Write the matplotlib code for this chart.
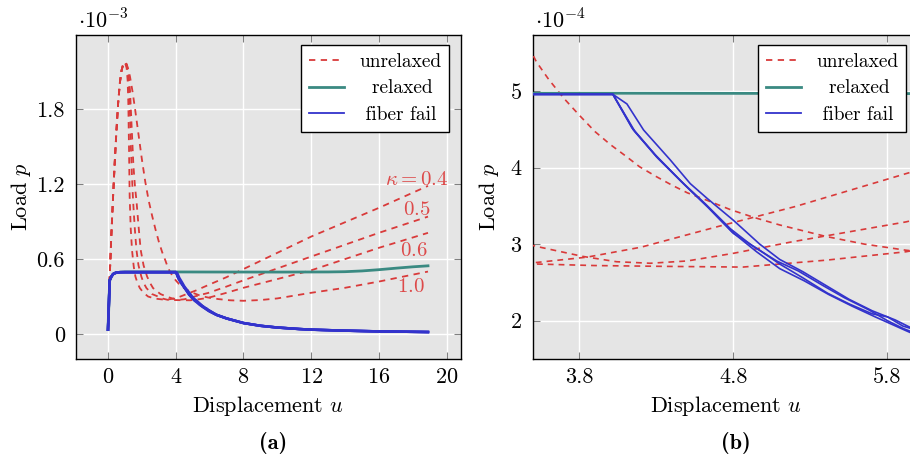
import numpy as np
import matplotlib
matplotlib.use("Agg")
import matplotlib.pyplot as plt

plt.rcParams['font.family'] = ['cmr10', 'DejaVu Serif']
plt.rcParams['mathtext.fontset'] = 'cm'
plt.rcParams['axes.formatter.use_mathtext'] = True
plt.rcParams['axes.unicode_minus'] = False

# load values are stored in units of 1e-3
rise_u = [0.0, 0.1, 0.2, 0.3, 0.4, 0.5, 0.6, 0.7, 0.8, 0.9, 1.0]
rise_p = [0.035, 0.45, 0.8, 1.1, 1.38, 1.63, 1.85, 2.01, 2.11, 2.16, 2.175]

k04_u = [1.1, 1.16, 1.2, 1.24, 1.28, 1.34, 1.42, 1.52, 1.62, 1.75, 1.88, 2.1, 2.37, 2.8, 3.2,
         3.52, 3.85, 4.2, 4.7, 5.2, 5.92, 7, 8, 10, 12, 14, 16, 18.9]
k04_p = [2.13, 2.03, 1.85, 1.5, 1.1, 0.85, 0.67, 0.54, 0.46, 0.405, 0.368, 0.33, 0.30, 0.283, 0.277,
         0.276, 0.283, 0.296, 0.323, 0.349, 0.392, 0.455, 0.52, 0.65, 0.78, 0.895, 1.01, 1.186]

k05_u = [1.1, 1.2, 1.3, 1.4, 1.5, 1.6, 1.68, 1.8, 1.93, 2.1, 2.31, 2.5, 2.66, 3.1, 3.52, 3.82,
         4.04, 4.26, 4.5, 4.8, 5.18, 5.92, 7, 8, 10, 12, 14, 16, 18.9]
k05_p = [2.16, 2.1, 1.95, 1.65, 1.35, 1.17, 1.07, 0.87, 0.674, 0.55, 0.46, 0.405, 0.368, 0.32, 0.297, 0.284,
         0.277, 0.275, 0.278, 0.288, 0.303, 0.329, 0.38, 0.43, 0.525, 0.62, 0.715, 0.81, 0.94]

k06_u = [1.1, 1.2, 1.28, 1.35, 1.42, 1.48, 1.58, 1.68, 1.8, 1.97, 2.1, 2.27, 2.6, 2.96, 3.25, 3.52,
         3.9, 4.32, 4.86, 5.4, 5.92, 7, 8, 10, 12, 14, 16, 18.9]
k06_p = [2.15, 2.08, 1.85, 1.5, 1.25, 1.07, 0.85, 0.674, 0.55, 0.46, 0.41, 0.368, 0.32, 0.30, 0.283, 0.274,
         0.272, 0.271, 0.270, 0.279, 0.29, 0.33, 0.37, 0.44, 0.51, 0.6, 0.69, 0.81]

k10_u = [1.1, 1.2, 1.3, 1.45, 1.6, 1.8, 2.0, 2.2, 2.4, 2.6, 2.8, 3.0, 3.2, 3.4, 3.52, 3.6, 3.7,
         3.8, 3.9, 4.0, 4.1, 4.19, 4.3, 4.4, 4.5, 4.63, 4.78, 4.93, 5.1, 5.4, 5.65, 5.92,
         6.5, 7.2, 8, 9, 10, 12, 14, 16, 18.9]
k10_p = [2.16, 2.12, 2.06, 1.94, 1.8, 1.6, 1.4, 1.22, 1.07, 0.95, 0.84, 0.74, 0.655, 0.585, 0.538,
         0.515, 0.49, 0.468, 0.447, 0.43, 0.415, 0.401, 0.388, 0.377, 0.367, 0.357, 0.345, 0.335,
         0.325, 0.31, 0.30, 0.292, 0.28, 0.27, 0.266, 0.272, 0.285, 0.33, 0.37, 0.42, 0.50]

kappas = ['0.4', '0.5', '0.6', '1.0']
unrelaxed = [(k04_u, k04_p), (k05_u, k05_p), (k06_u, k06_p), (k10_u, k10_p)]

relaxed_u = [0.0, 0.1, 0.2, 0.3, 0.45, 0.7, 1.0, 4, 6, 10, 13, 14, 15, 16, 17, 18, 18.9]
relaxed_p = [0.035, 0.43, 0.46, 0.48, 0.49, 0.495, 0.497, 0.497, 0.4965, 0.496, 0.497, 0.499,
             0.505, 0.515, 0.527, 0.538, 0.546]

fail_start_u = [0.0, 0.1, 0.2, 0.3, 0.45, 0.7, 1.0, 4.017]
fail_start_p = [0.035, 0.43, 0.46, 0.48, 0.49, 0.495, 0.4955, 0.4955]
fail_tail_u = [6.4, 7, 8, 9, 10, 11.3, 12, 14, 16, 18.9]
fail_tail_p = [0.154, 0.125, 0.088, 0.066, 0.052, 0.040, 0.035, 0.027, 0.021, 0.016]

failA_u = [4.108, 4.216, 4.389, 4.519, 4.627, 4.80, 4.97, 5.1, 5.25, 5.4, 5.55, 5.7, 5.85, 6.0]
failA_p = [0.483, 0.449, 0.410, 0.379, 0.360, 0.331, 0.300, 0.280, 0.264, 0.246, 0.228, 0.213, 0.201, 0.186]
failB_u = [4.15, 4.30, 4.475, 4.63, 4.80, 4.97, 5.1, 5.25, 5.41, 5.55, 5.7, 5.80, 5.9, 6.0]
failB_p = [0.449, 0.414, 0.379, 0.349, 0.314, 0.292, 0.274, 0.256, 0.236, 0.222, 0.209, 0.205, 0.193, 0.187]
failC_u = [4.14, 4.29, 4.46, 4.62, 4.78, 4.92, 5.08, 5.22, 5.38, 5.52, 5.68, 5.80, 5.9, 6.0]
failC_p = [0.452, 0.417, 0.382, 0.352, 0.320, 0.298, 0.278, 0.265, 0.246, 0.230, 0.214, 0.200, 0.190, 0.182]
failD_u = [4.16, 4.31, 4.49, 4.64, 4.79, 4.95, 5.1, 5.26, 5.42, 5.57, 5.72, 5.82, 5.92, 6.0]
failD_p = [0.447, 0.412, 0.376, 0.347, 0.316, 0.290, 0.268, 0.252, 0.234, 0.219, 0.205, 0.196, 0.187, 0.180]
fail_mid = [(failA_u, failA_p), (failB_u, failB_p), (failC_u, failC_p), (failD_u, failD_p)]

left_xticks = [0, 4, 8, 12, 16, 20]
left_yticks = [0, 0.6, 1.2, 1.8]
left_yticklabels = ['0', '0.6', '1.2', '1.8']
right_xticks = [3.8, 4.8, 5.8]
right_xticklabels = ['3.8', '4.8', '5.8']
right_yticks = [2, 3, 4, 5]

RED = '#d93a3a'
TEAL = '#3a8a82'
BLUE = '#3333cc'
BG = '#e5e5e5'

fig = plt.figure(figsize=(9.1, 4.57), dpi=100)
W, H = 910, 457
ax1 = fig.add_axes([76 / W, 1 - 359 / H, 385 / W, 324 / H])
ax2 = fig.add_axes([533.3 / W, 1 - 359 / H, 385 / W, 324 / H])


def style(ax, ypad):
    ax.set_facecolor(BG)
    ax.grid(True, color='white', lw=1.0)
    ax.set_axisbelow(True)
    ax.tick_params(direction='in', length=5, width=0.8, color='#808080',
                   top=True, right=True, labelsize=16)
    ax.tick_params(axis='x', pad=6)
    ax.tick_params(axis='y', pad=8)
    for s in ax.spines.values():
        s.set_color('black')
        s.set_linewidth(1.0)
    ax.set_xlabel(r'Displacement $u$', fontsize=16, labelpad=5)
    ax.set_ylabel(r'Load $p$', fontsize=16, labelpad=ypad)


def draw(ax, scale, lw_dash, lw_fail):
    for i, (u, p) in enumerate(unrelaxed):
        uu = np.concatenate([rise_u, u])
        pp = np.concatenate([rise_p, p]) * scale
        ax.plot(uu, pp, color=RED, lw=lw_dash, dashes=(3.5, 3.0),
                label='unrelaxed' if i == 0 else None, zorder=3)
    ax.plot(relaxed_u, np.array(relaxed_p) * scale, color=TEAL, lw=2.0,
            label='  relaxed', zorder=4)
    for i, (u, p) in enumerate(fail_mid):
        uu = np.concatenate([fail_start_u, u, fail_tail_u])
        pp = np.concatenate([fail_start_p, p, fail_tail_p]) * scale
        ax.plot(uu, pp, color=BLUE, lw=lw_fail,
                label=' fiber fail' if i == 0 else None, zorder=5)
    leg = ax.legend(loc='upper right', fontsize=14, frameon=True, fancybox=False,
                    framealpha=1, edgecolor='black', handlelength=1.8,
                    borderaxespad=0.0, labelspacing=0.45, borderpad=0.4,
                    handletextpad=0.8)
    leg.get_frame().set_linewidth(1.0)
    leg.set_zorder(10)
    for h in leg.get_lines():
        h.set_linewidth(1.3 if h.get_color() != TEAL else 2.0)
    return leg


style(ax1, 2.5)
leg1 = draw(ax1, 1.0, 1.3, 1.8)
leg1.set_bbox_to_anchor((449 / W, 1 - 45 / H), transform=fig.transFigure)
ax1.set_xlim(-1.89, 20.85)
ax1.set_ylim(-0.2, 2.394)
ax1.set_xticks(left_xticks)
ax1.set_yticks(left_yticks)
ax1.set_yticklabels(left_yticklabels)
ax1.text(0.005, 1.008, r'$\cdot 10^{-3}$', transform=ax1.transAxes, fontsize=16,
         ha='left', va='bottom')

# kappa labels next to the curve ends
lab_x = [20.1, 19.03, 18.86, 18.74]
lab_y = [1.235, 0.994, 0.666, 0.378]
for i, k in enumerate(kappas):
    txt = r'$\kappa = %s$' % k if i == 0 else r'$%s$' % k
    ax1.text(lab_x[i], lab_y[i], txt, color='#dd4a4a', fontsize=15,
             ha='right', va='center', zorder=6)

style(ax2, 6)
leg2 = draw(ax2, 10.0, 1.2, 1.2)
# legend in right panel must stay within visible figure area
leg2.set_bbox_to_anchor((906 / W, 1 - 45 / H), transform=fig.transFigure)
ax2.set_xlim(3.5, 6.0)
ax2.set_ylim(1.5, 5.73)
ax2.set_xticks(right_xticks)
ax2.set_xticklabels(right_xticklabels)
ax2.set_yticks(right_yticks)
ax2.text(0.005, 1.008, r'$\cdot 10^{-4}$', transform=ax2.transAxes, fontsize=16,
         ha='left', va='bottom')

fig.text(273 / W, 1 - 443 / H, '(a)', fontfamily='cmb10', fontsize=16, ha='center', va='center')
fig.text(736 / W, 1 - 443 / H, '(b)', fontfamily='cmb10', fontsize=16, ha='center', va='center')

fig.savefig('out.png', dpi=100)
